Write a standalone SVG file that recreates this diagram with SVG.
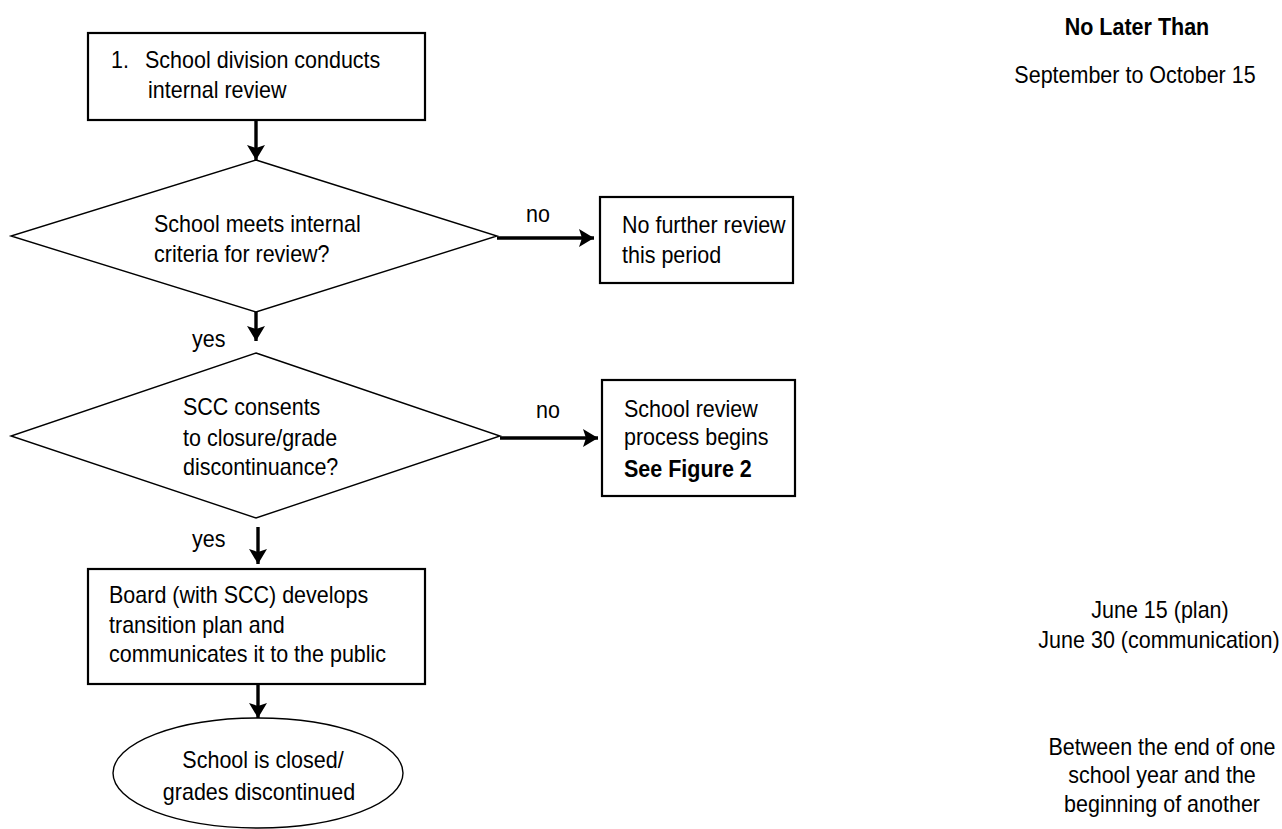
<svg xmlns="http://www.w3.org/2000/svg" width="1282" height="829" viewBox="0 0 1282 829">
<style>
text{font-family:"Liberation Sans",Arial,sans-serif;font-size:23px;fill:#000}
.b{font-weight:bold}
.m{text-anchor:middle}
.box{fill:#fff;stroke:#000;stroke-width:2.2}
.shape{fill:#fff;stroke:#000;stroke-width:1.4}
.conn{stroke:#000;stroke-width:3.4;fill:none}
</style>
<defs>
<marker id="ah" viewBox="0 0 15 18" refX="15" refY="9" markerWidth="15" markerHeight="18" markerUnits="userSpaceOnUse" orient="auto">
<path d="M0,0 L15,9 L0,18 L3,9 Z" fill="#000"/>
</marker>
</defs>
<rect width="1282" height="829" fill="#fff"/>
<g id="connectors">
<line class="conn" x1="256" y1="120" x2="256" y2="160" marker-end="url(#ah)"/>
<line class="conn" x1="256" y1="312" x2="256" y2="341" marker-end="url(#ah)"/>
<line class="conn" x1="497" y1="238" x2="594" y2="238" marker-end="url(#ah)"/>
<line class="conn" x1="500" y1="438" x2="598" y2="438" marker-end="url(#ah)"/>
<line class="conn" x1="258" y1="527" x2="258" y2="564" marker-end="url(#ah)"/>
<line class="conn" x1="258" y1="684" x2="258" y2="718" marker-end="url(#ah)"/>
<text transform="translate(526,222) scale(0.935,1)">no</text>
<text transform="translate(536,418) scale(0.935,1)">no</text>
<text transform="translate(192,347) scale(0.935,1)">yes</text>
<text transform="translate(192,547) scale(0.935,1)">yes</text>
</g>
<g id="n1">
<rect class="box" x="88" y="33" width="337" height="87"/>
<text transform="translate(111,68) scale(0.935,1)">1.</text>
<text transform="translate(145,68) scale(0.935,1)">School division conducts</text>
<text transform="translate(148,98) scale(0.935,1)">internal review</text>
</g>
<g id="d1">
<polygon class="shape" points="256,160 497,236 256,312 11,236"/>
<text transform="translate(154,232) scale(0.935,1)">School meets internal</text>
<text transform="translate(154,262) scale(0.935,1)">criteria for review?</text>
</g>
<g id="n2">
<rect class="box" x="600" y="197" width="193" height="86"/>
<text transform="translate(622,233) scale(0.935,1)">No further review</text>
<text transform="translate(622,263) scale(0.935,1)">this period</text>
</g>
<g id="d2">
<polygon class="shape" points="256,353 500,436 256,518 11,436"/>
<text transform="translate(183,415) scale(0.935,1)">SCC consents</text>
<text transform="translate(183,446) scale(0.935,1)">to closure/grade</text>
<text transform="translate(183,475) scale(0.935,1)">discontinuance?</text>
</g>
<g id="n3">
<rect class="box" x="602" y="380" width="193" height="116"/>
<text transform="translate(624,417) scale(0.935,1)">School review</text>
<text transform="translate(624,445) scale(0.935,1)">process begins</text>
<text class="b" transform="translate(624,477) scale(0.935,1)">See Figure 2</text>
</g>
<g id="n4">
<rect class="box" x="88" y="569" width="337" height="115"/>
<text transform="translate(109,603) scale(0.935,1)">Board (with SCC) develops</text>
<text transform="translate(109,633) scale(0.935,1)">transition plan and</text>
<text transform="translate(109,662) scale(0.935,1)">communicates it to the public</text>
</g>
<g id="n5">
<ellipse class="shape" cx="258" cy="773" rx="145" ry="55"/>
<text class="m" transform="translate(263,768) scale(0.935,1)">School is closed/</text>
<text class="m" transform="translate(259,800) scale(0.935,1)">grades discontinued</text>
</g>
<g id="timeline">
<text class="m b" transform="translate(1137,35) scale(0.935,1)">No Later Than</text>
<text class="m" transform="translate(1135,83) scale(0.935,1)">September to October 15</text>
<text class="m" transform="translate(1160,618) scale(0.935,1)">June 15 (plan)</text>
<text class="m" transform="translate(1159,648) scale(0.935,1)">June 30 (communication)</text>
<text class="m" transform="translate(1162,755) scale(0.935,1)">Between the end of one</text>
<text class="m" transform="translate(1162,783) scale(0.935,1)">school year and the</text>
<text class="m" transform="translate(1162,812) scale(0.935,1)">beginning of another</text>
</g>
</svg>
